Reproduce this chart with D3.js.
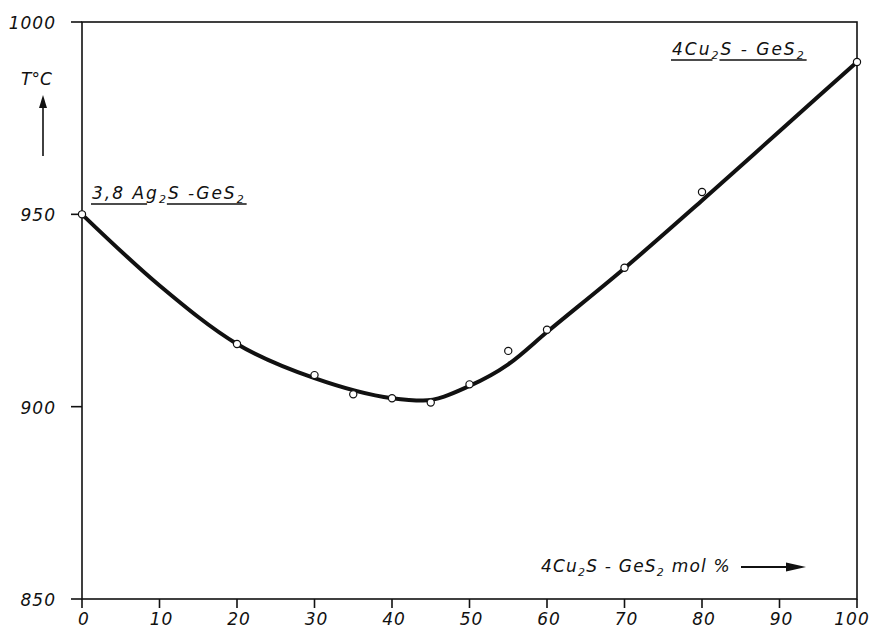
<!DOCTYPE html>
<meta charset="utf-8">
<style>
body { margin:0; background:#fff; }
text { font-family: "DejaVu Sans", sans-serif; font-style: italic; fill:#111; }
</style>
<script src="https://d3js.org/d3.v7.min.js"></script>
<body>
<script>

var width = 872, height = 630

// measured points (mol % 4Cu2S-GeS2, T in C)
var molPct = [0, 20, 30, 35, 40, 45, 50, 55, 60, 70, 80, 100]
var tempC  = [950, 916.3, 908.2, 903.2, 902.2, 901.1, 905.8, 914.5, 920, 936.1, 955.8, 989.6]

// hand drawn fit curve
var curveMol = [0, 10, 20, 30, 40, 44, 50, 55, 60, 70, 80, 90, 100]
var curveT   = [950, 931.5, 916.3, 907.4, 902.2, 901.6, 905.4, 911, 919.4, 936, 953.6, 971.6, 989.6]

var xTicks = [0, 10, 20, 30, 40, 50, 60, 70, 80, 90, 100]
var yTicks = [850, 900, 950, 1000]

var x = d3.scaleLinear().domain([0,100]).range([82,857])
var y = d3.scaleLinear().domain([850,1000]).range([599,22])

var svg = d3.select("body").append("svg").attr("width",width).attr("height",height)

// frame
svg.append("rect")
.attr("x",x(0)).attr("y",y(1000))
.attr("width",x(100)-x(0)).attr("height",y(850)-y(1000))
.attr("fill","none").attr("stroke","#111").attr("stroke-width",1.6)

// y ticks (to the left)
svg.append("g").selectAll("line").data(yTicks).enter().append("line")
.attr("x1",x(0)-11).attr("x2",x(0))
.attr("y1",d=>y(d)).attr("y2",d=>y(d))
.attr("stroke","#111").attr("stroke-width",1.6)

svg.append("g").selectAll("text").data(yTicks).enter().append("text")
.attr("x",56).attr("y",d=>y(d)+7)
.attr("text-anchor","end")
.style("font-size","17px").style("letter-spacing","1px")
.text(d=>d)

// x ticks (below)
svg.append("g").selectAll("line").data(xTicks).enter().append("line")
.attr("x1",d=>x(d)).attr("x2",d=>x(d))
.attr("y1",y(850)).attr("y2",y(850)+9)
.attr("stroke","#111").attr("stroke-width",1.6)

svg.append("g").selectAll("text").data(xTicks).enter().append("text")
.attr("x",d=>Math.min(x(d)+2, 852)).attr("y",y(850)+26)
.attr("text-anchor","middle")
.style("font-size","17px").style("letter-spacing","1px")
.text(d=>d)

// fit curve
var line = d3.line().x(d=>x(d[0])).y(d=>y(d[1])).curve(d3.curveMonotoneX)
svg.append("path")
.datum(curveMol.map((m,i)=>[m,curveT[i]]))
.attr("d",line)
.attr("fill","none").attr("stroke","#111").attr("stroke-width",4)
.attr("stroke-linecap","round")

// points
svg.append("g").selectAll("circle").data(molPct.map((m,i)=>[m,tempC[i]])).enter().append("circle")
.attr("cx",d=>x(d[0])).attr("cy",d=>y(d[1]))
.attr("r",3.6)
.attr("fill","#fff").attr("stroke","#111").attr("stroke-width",1.2)

// text with subscripts; parts = [string, isSub]
function subText(px, py, parts, ls){
  var t = svg.append("text").attr("x",px).attr("y",py)
  .style("font-size","17px").style("letter-spacing",(ls||2)+"px")
  var shift = 0
  parts.forEach(p=>{
    var target = p[1] ? 4 : 0
    var s = t.append("tspan").attr("dy",target-shift).text(p[0])
    if(p[1]) s.style("font-size","11px")
    shift = target
  })
  return t
}

// labels with broken underline
function label(px, py, parts, segs){
  var node = subText(px, py, parts).node()
  segs.forEach(s=>{
    var a = node.getStartPositionOfChar(s[0]).x
    var b = node.getEndPositionOfChar(s[1]).x
    svg.append("line").attr("x1",a-1).attr("x2",b+1)
    .attr("y1",py+5).attr("y2",py+5)
    .attr("stroke","#111").attr("stroke-width",1.3)
  })
}

label(92, 199, [["3,8 Ag",0],["2",1],["S -GeS",0],["2",1]], [[0,4],[7,13]])
label(672, 55, [["4Cu",0],["2",1],["S - GeS",0],["2",1]], [[0,2],[4,11]])

// y title + arrow
svg.append("text").attr("x",21).attr("y",85)
.style("font-size","17px").text("T°C")

svg.append("line").attr("x1",43).attr("x2",43).attr("y1",156).attr("y2",104)
.attr("stroke","#111").attr("stroke-width",1.6)
svg.append("path").attr("d","M43,95 L39,108 L47,108 Z").attr("fill","#111")

// x title + arrow
subText(541, 572, [["4Cu",0],["2",1],["S - GeS",0],["2",1],[" mol %",0]], 1.2)

svg.append("line").attr("x1",741).attr("x2",790).attr("y1",567).attr("y2",567)
.attr("stroke","#111").attr("stroke-width",1.8)
svg.append("path").attr("d","M806,567 L786,562.5 L786,571.5 Z").attr("fill","#111")

</script>
